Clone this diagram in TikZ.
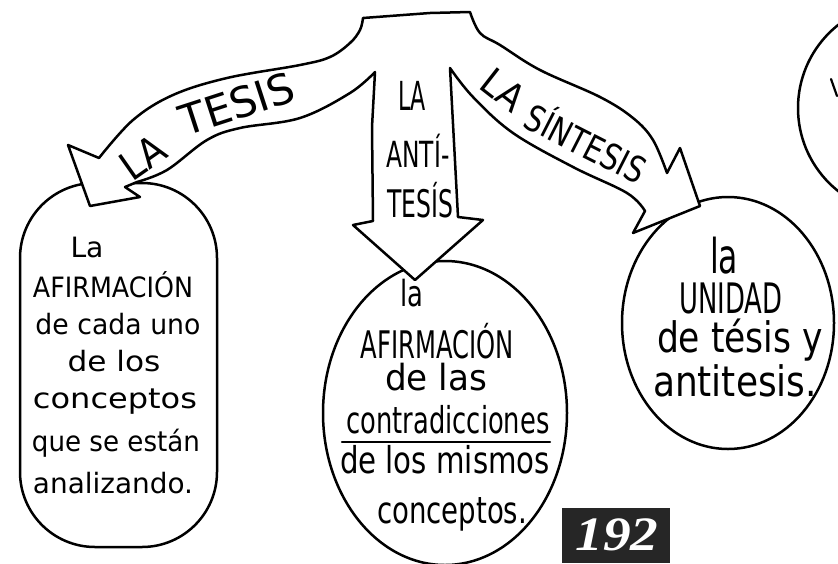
\documentclass[tikz,border=0pt]{standalone}
\usepackage{fontspec}
\usepackage{graphicx}
\usetikzlibrary{shapes.geometric}
\newfontfamily\hand{DejaVu Sans}
\newfontfamily\numfont{Liberation Serif}
\newcommand\hw[3]{\resizebox{#1pt}{\height}{\fontsize{#2pt}{#2pt}\selectfont\hand #3}}
\begin{document}
\begin{tikzpicture}[x=1pt,y=-1pt, line join=round, line cap=round,
  ink/.style={draw=black, line width=2.5pt, fill=white},
  txt/.style={inner sep=0pt, outer sep=0pt, anchor=base},
  rtxt/.style={inner sep=0pt, outer sep=0pt, anchor=center}]
\useasboundingbox (0,0) rectangle (838,563);
\clip (0,0) rectangle (838,563);
\fill[white] (0,0) rectangle (838,563);
% bubbles
\node[ink, shape=circle, minimum size=212pt, inner sep=0pt] (far) at (904,108) {};
\draw[line width=2.2pt] (831,79) -- (837,96);
\node[ink, rectangle, rounded corners=75pt, minimum width=197pt, minimum height=364pt] (left) at (118.5,365) {};
\node[ink, ellipse, minimum width=244pt, minimum height=304pt, inner sep=0pt] (mid) at (445,413) {};
\node[ink, ellipse, minimum width=212pt, minimum height=252pt, inner sep=0pt] (right) at (728,323) {};
% branching arrow
\draw[ink] (363,18) -- (430,13) -- (470,12)
 -- plot[smooth, tension=0.6] coordinates {(470,12) (480,33) (500,45) (540,70) (600,97) (633,118) (653,140) (667,173)}
 -- (680,148) -- (700,206) -- (633,233) -- (645,211)
 -- plot[smooth, tension=0.6] coordinates {(645,211) (627,193) (573,167) (513,133) (473,97) (450,68)}
 -- (458,217) -- (483,220) -- (415,280) -- (353,225) -- (373,221) -- (372,127) -- (375,72)
 -- plot[smooth, tension=0.6] coordinates {(375,72) (350,93) (300,118) (240,128) (207,140) (167,170) (137,182)}
 -- (125,187) -- (140,197) -- (90,206) -- (68,145) -- (99,158)
 -- plot[smooth, tension=0.6] coordinates {(99,158) (133,120) (173,95) (227,78) (300,65) (330,57) (350,43) (360,30) (363,18)}
 -- cycle;
% arrow labels
\node[rtxt, rotate=35] (tA) at (143,157) {\hw{46}{40}{LA}};
\node[rtxt, rotate=18] (tB) at (237,104) {\hw{118}{42}{TESIS}};
\node[txt] (aA) at (412,110) {\hw{28}{40}{LA}};
\node[txt] (aB) at (418,167) {\hw{63}{36}{ANTÍ-}};
\node[txt] (aC) at (420,217) {\hw{66}{38}{TESÍS}};
\node[rtxt, rotate=-38] (sA) at (503,90) {\hw{44}{38}{LA}};
\node[rtxt, rotate=-27] (sB) at (587,141) {\hw{130}{36}{SÍNTESIS}};
% left bubble text
\node[txt] (l1) at (87,257) {\hw{33}{28}{La}};
\node[txt] (l2) at (113,297) {\hw{160}{28}{AFIRMACIÓN}};
\node[txt] (l3) at (118,334) {\hw{165}{28}{de cada uno}};
\node[txt] (l4) at (114,371) {\hw{93}{28}{de los}};
\node[txt] (l5) at (115,408) {\hw{164}{28}{conceptos}};
\node[txt] (l6) at (116,451) {\hw{168}{28}{que se están}};
\node[txt] (l7) at (113,493) {\hw{160}{28}{analizando.}};
% middle bubble text
\node[txt] (m1) at (412,306) {\hw{23}{36}{la}};
\node[txt] (m2) at (437,358) {\hw{153}{38}{AFIRMACIÓN}};
\node[txt] (m3) at (436,390) {\hw{102}{36}{de las}};
\node[txt] (m4) at (448,433) {\hw{203}{37}{contradicciones}};
\draw[line width=2.2pt] (342,442) -- (550,442);
\node[txt] (m5) at (445,473) {\hw{210}{37}{de los mismos}};
\node[txt] (m6) at (452,523) {\hw{150}{37}{conceptos.}};
% right bubble text
\node[txt] (r1) at (724,273) {\hw{28}{48}{la}};
\node[txt] (r2) at (731,313) {\hw{103}{42}{UNIDAD}};
\node[txt] (r3) at (740,352) {\hw{166}{42}{de tésis y}};
\node[txt] (r4) at (735,396) {\hw{164}{42}{antitesis.}};
% page number
\fill[black!85] (562,508) rectangle (670,563);
\node[txt, text=white] (pg) at (617,550) {\resizebox{83pt}{\height}{\fontsize{48pt}{48pt}\selectfont\numfont\bfseries\itshape 192}};
\end{tikzpicture}
\end{document}
